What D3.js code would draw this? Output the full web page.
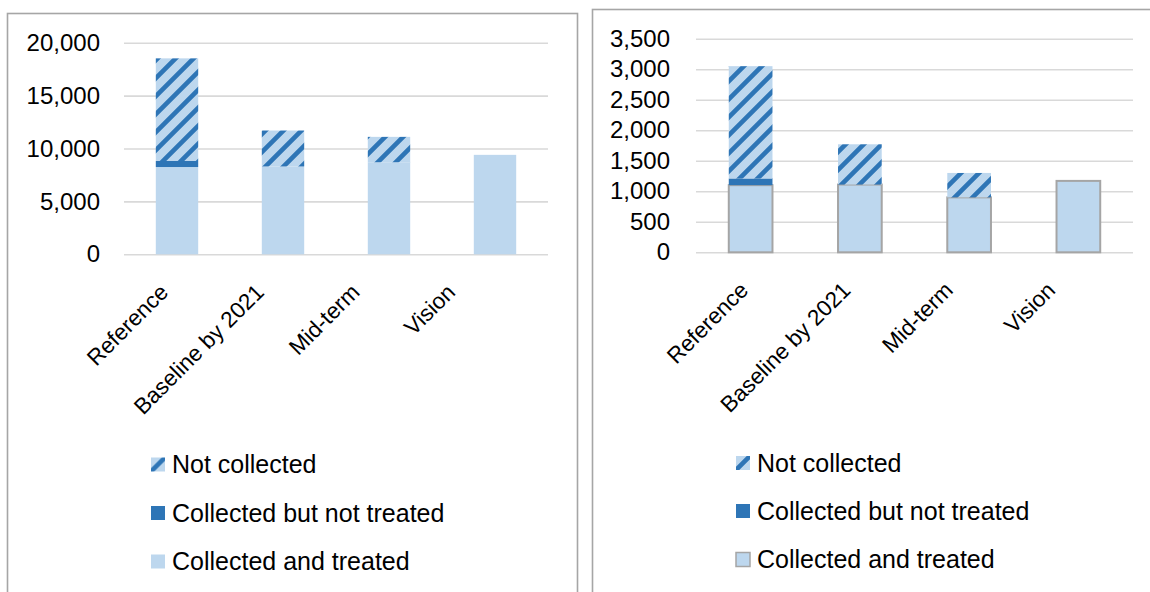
<!DOCTYPE html>
<html>
<head>
<meta charset="utf-8">
<script src="https://cdn.jsdelivr.net/npm/d3@7"></script>
<style>
  html, body { margin: 0; padding: 0; background: #fff; }
  svg { display: block; }
  text { font-family: "Liberation Sans", Arial, sans-serif; fill: #000; }
</style>
</head>
<body>
<svg id="chart" width="1150" height="592"></svg>
<script>
// ---- Data ----
const categories = ["Reference", "Baseline by 2021", "Mid-term", "Vision"];
const seriesNames = ["Not collected", "Collected but not treated", "Collected and treated"];

// Left chart
const leftTreated = [8250, 8300, 8700, 9400];
const leftNotTreated = [570, 0, 0, 0];
const leftNotCollected = [9700, 3400, 2400, 0];
const leftTicks = [0, 5000, 10000, 15000, 20000];

// Right chart
const rightTreated = [1100, 1110, 900, 1170];
const rightNotTreated = [110, 0, 0, 0];
const rightNotCollected = [1840, 660, 400, 0];
const rightTicks = [0, 500, 1000, 1500, 2000, 2500, 3000, 3500];

// ---- Style ----
const LIGHT = "#bdd7ee", DARK = "#2e75b6", GRID = "#d9d9d9", FRAME = "#a6a6a6";

const svg = d3.select("#chart");
const defs = svg.append("defs");

function hatch(id, px, py) {
  const p = defs.append("pattern").attr("id", id)
    .attr("patternUnits", "userSpaceOnUse")
    .attr("x", px).attr("y", py)
    .attr("width", 18).attr("height", 18);
  p.append("rect").attr("width", 18).attr("height", 18).attr("fill", LIGHT);
  p.append("path").attr("d", "M-4.5,4.5 L4.5,-4.5 M0,18 L18,0 M13.5,22.5 L22.5,13.5")
    .attr("stroke", DARK).attr("stroke-width", 4.6).attr("fill", "none");
}
hatch("hatchBars", 0, 0);

function panel(cfg) {
  const g = svg.append("g");
  // frame
  g.append("rect").attr("x", cfg.frame[0]).attr("y", cfg.frame[1])
    .attr("width", cfg.frame[2]).attr("height", cfg.frame[3])
    .attr("fill", "none").attr("stroke", FRAME).attr("stroke-width", 1.6);

  const y = d3.scaleLinear().domain([0, cfg.ticks[cfg.ticks.length - 1]]).range(cfg.yRange);
  const x = d3.scaleBand().domain(categories).range(cfg.xRange)
    .paddingInner(0.6).paddingOuter(0.3);

  // gridlines
  g.append("g").attr("transform", `translate(${cfg.xRange[0]},0)`)
    .call(d3.axisLeft(y).tickValues(cfg.ticks).tickSize(-(cfg.xRange[1] - cfg.xRange[0])).tickFormat(""))
    .call(s => s.select(".domain").remove())
    .call(s => s.selectAll("line").attr("stroke", GRID).attr("stroke-width", 1.6));

  // y labels
  g.append("g").attr("transform", `translate(${cfg.yLabelX},0)`)
    .call(d3.axisLeft(y).tickValues(cfg.ticks).tickSize(0).tickPadding(0).tickFormat(d3.format(",")))
    .call(s => s.select(".domain").remove())
    .call(s => s.selectAll("text").attr("font-size", 24).attr("fill", "#000")
      .attr("font-family", "Liberation Sans, Arial, sans-serif"));

  // stacked bars
  const rows = categories.map((c, i) => ({
    cat: c, treated: cfg.treated[i], notTreated: cfg.notTreated[i], notCollected: cfg.notCollected[i]
  }));
  const stack = d3.stack().keys(["treated", "notTreated", "notCollected"])(rows);
  const fills = { treated: LIGHT, notTreated: DARK, notCollected: "url(#hatchBars)" };

  stack.forEach(layer => {
    g.append("g").selectAll("rect").data(layer.filter(d => d[1] - d[0] > 0)).join("rect")
      .attr("x", d => x(d.data.cat))
      .attr("width", x.bandwidth())
      .attr("y", d => y(d[1]))
      .attr("height", d => y(d[0]) - y(d[1]))
      .attr("fill", fills[layer.key])
      .attr("stroke", layer.key === "treated" && cfg.outline ? "#a5a5a5" : "none")
      .attr("stroke-width", 2);
  });

  // category labels (rotated)
  const lx = d3.scalePoint().domain(categories).range(cfg.labelRange);
  g.append("g").selectAll("text").data(categories).join("text")
    .attr("transform", d => `translate(${lx(d)},${cfg.labelY}) rotate(-45)`)
    .attr("text-anchor", "end")
    .attr("dy", "0.35em")
    .attr("font-size", 22.5)
    .text(d => d);

  // legend
  const lg = g.append("g");
  seriesNames.forEach((name, i) => {
    const cy = cfg.legendY[i];
    const mx = cfg.legendX, ms = 14;
    let fill;
    if (i === 0) {
      const id = "hatchLeg" + cfg.id;
      hatch(id, mx - 2, cy - 7 - 2);
      fill = `url(#${id})`;
    } else if (i === 1) fill = DARK; else fill = LIGHT;
    lg.append("rect").attr("x", mx).attr("y", cy - ms / 2).attr("width", ms).attr("height", ms)
      .attr("fill", fill)
      .attr("stroke", (i === 2 && cfg.outline) ? "#a5a5a5" : "none").attr("stroke-width", 1.5);
    lg.append("text").attr("x", cfg.legendTextX).attr("y", cy).attr("dy", "0.35em")
      .attr("font-size", 25).text(name);
  });
}

panel({
  id: "L",
  frame: [7.5, 13.5, 570, 600],
  ticks: leftTicks, yRange: [254.3, 42.7], xRange: [124, 548], yLabelX: 100,
  treated: leftTreated, notTreated: leftNotTreated, notCollected: leftNotCollected,
  outline: false,
  labelRange: [164, 451], labelY: 288,
  legendX: 151, legendTextX: 172, legendY: [464.5, 513, 561.5]
});
panel({
  id: "R",
  frame: [592.5, 9.5, 600, 600],
  ticks: rightTicks, yRange: [252.3, 38.7], xRange: [696, 1133], yLabelX: 670,
  treated: rightTreated, notTreated: rightNotTreated, notCollected: rightNotCollected,
  outline: true,
  labelRange: [744, 1051], labelY: 286,
  legendX: 736, legendTextX: 757, legendY: [463, 511, 559.5]
});
</script>
</body>
</html>
